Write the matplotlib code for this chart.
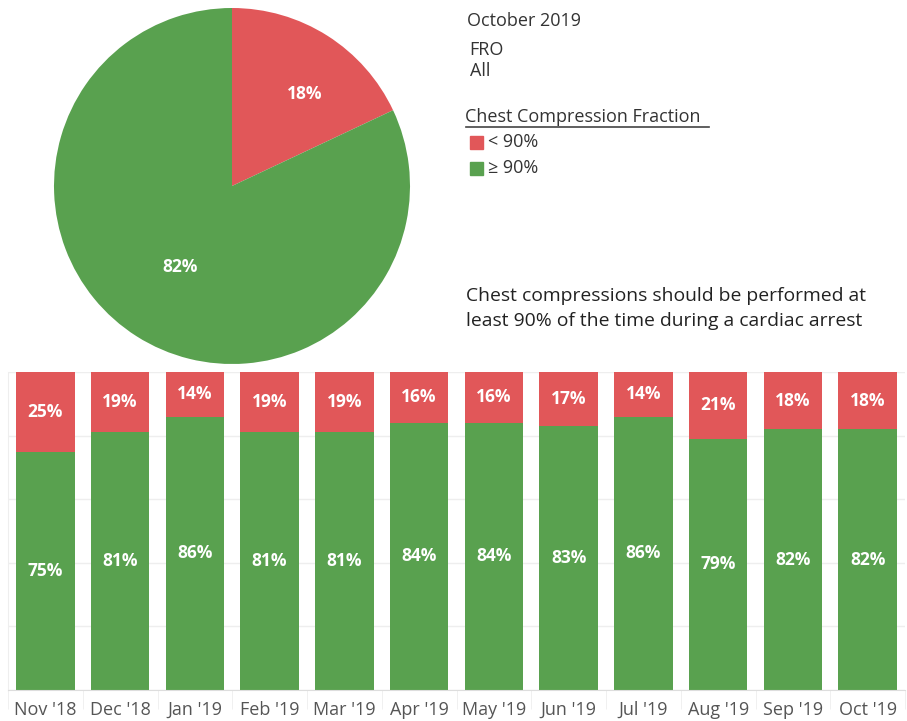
import numpy as np
import matplotlib.pyplot as plt
from matplotlib.patches import Rectangle

# data
months = ["Nov '18", "Dec '18", "Jan '19", "Feb '19", "Mar '19", "Apr '19",
          "May '19", "Jun '19", "Jul '19", "Aug '19", "Sep '19", "Oct '19"]
below_90 = [25, 19, 14, 19, 19, 16, 16, 17, 14, 21, 18, 18]
above_90 = [75, 81, 86, 81, 81, 84, 84, 83, 86, 79, 82, 82]
pie_labels = ["< 90%", "\u2265 90%"]
pie_values = [18, 82]

RED = "#E15759"
GREEN = "#59A14F"
plt.rcParams['font.family'] = ['Open Sans', 'DejaVu Sans']

fig = plt.figure(figsize=(9.07, 7.21), dpi=100)
W, H = 907, 721

# pie
ax_pie = fig.add_axes([54 / W, 1 - 364 / H, 356 / W, 356 / H])
wedges, _ = ax_pie.pie(pie_values, colors=[RED, GREEN], startangle=90,
                       counterclock=False, radius=1.0,
                       wedgeprops=dict(linewidth=0))
# label distance and angle shift per wedge, mimicking the source placement
for w, v, d, shift in zip(wedges, pie_values, [0.66, 0.54], [-6, 0]):
    ang = np.deg2rad((w.theta1 + w.theta2) / 2 + shift)
    ax_pie.text(d * np.cos(ang), d * np.sin(ang), f"{v}%", color="white",
                fontsize=12.5, fontweight="bold", ha="center", va="center")
ax_pie.set_xlim(-1, 1)
ax_pie.set_ylim(-1, 1)
ax_pie.set_aspect("equal")

# header texts
fs = 13
fig.text(467 / W, 1 - 21 / H, "October 2019", fontsize=fs, color="#333333",
         va="center")
fig.text(469 / W, 1 - 50 / H, "FRO", fontsize=fs, color="#333333", va="center")
fig.text(470 / W, 1 - 71 / H, "All", fontsize=fs, color="#333333", va="center")
fig.text(465 / W, 1 - 117 / H, "Chest Compression Fraction", fontsize=fs,
         color="#333333", va="center")
fig.add_artist(plt.Line2D([466 / W, 709 / W], [1 - 127 / H, 1 - 127 / H],
                          color="#444444", linewidth=1.2))
for i, (lab, col) in enumerate(zip(pie_labels, [RED, GREEN])):
    y = 142 + i * 26
    fig.add_artist(Rectangle((470 / W, 1 - (y + 7) / H), 13 / W, 13 / H,
                             color=col, transform=fig.transFigure))
    fig.text(488 / W, 1 - y / H, lab, fontsize=fs, color="#333333", va="center")

fig.text(466 / W, 1 - 296 / H, "Chest compressions should be performed at",
         fontsize=13.9, color="#222222", va="center")
fig.text(466 / W, 1 - 321 / H, "least 90% of the time during a cardiac arrest",
         fontsize=13.9, color="#222222", va="center")

# bars
ax = fig.add_axes([8 / W, 1 - 690 / H, 897 / W, 318 / H])
x = np.arange(len(months))
ax.bar(x, above_90, width=0.78, color=GREEN, zorder=2)
ax.bar(x, below_90, bottom=above_90, width=0.78, color=RED, zorder=2)
for xi, a, b in zip(x, above_90, below_90):
    ax.text(xi, a / 2, f"{a}%", color="white", fontsize=12.5, fontweight="bold",
            ha="center", va="center", zorder=3)
    ax.text(xi, a + b / 2, f"{b}%", color="white", fontsize=12.5,
            fontweight="bold", ha="center", va="center", zorder=3)
ax.set_xlim(-0.5, len(months) - 0.5)
ax.set_ylim(0, 100)
ax.set_yticks([0, 20, 40, 60, 80, 100])
ax.yaxis.grid(True, color="#eeeeee", linewidth=1, zorder=0)
ax.tick_params(axis="y", left=False, labelleft=False)
ax.set_xticks(x)
ax.set_xticklabels(months, fontsize=13, color="#555555")
ax.set_xticks(np.arange(len(months) + 1) - 0.5, minor=True)
ax.tick_params(axis="x", which="major", length=0, pad=8)
ax.tick_params(axis="x", which="minor", length=14, color="#eeeeee")
for s in ["top", "right"]:
    ax.spines[s].set_visible(False)
ax.spines["left"].set_color("#eeeeee")
ax.spines["bottom"].set_color("#dddddd")

fig.savefig("out.png", dpi=100)
